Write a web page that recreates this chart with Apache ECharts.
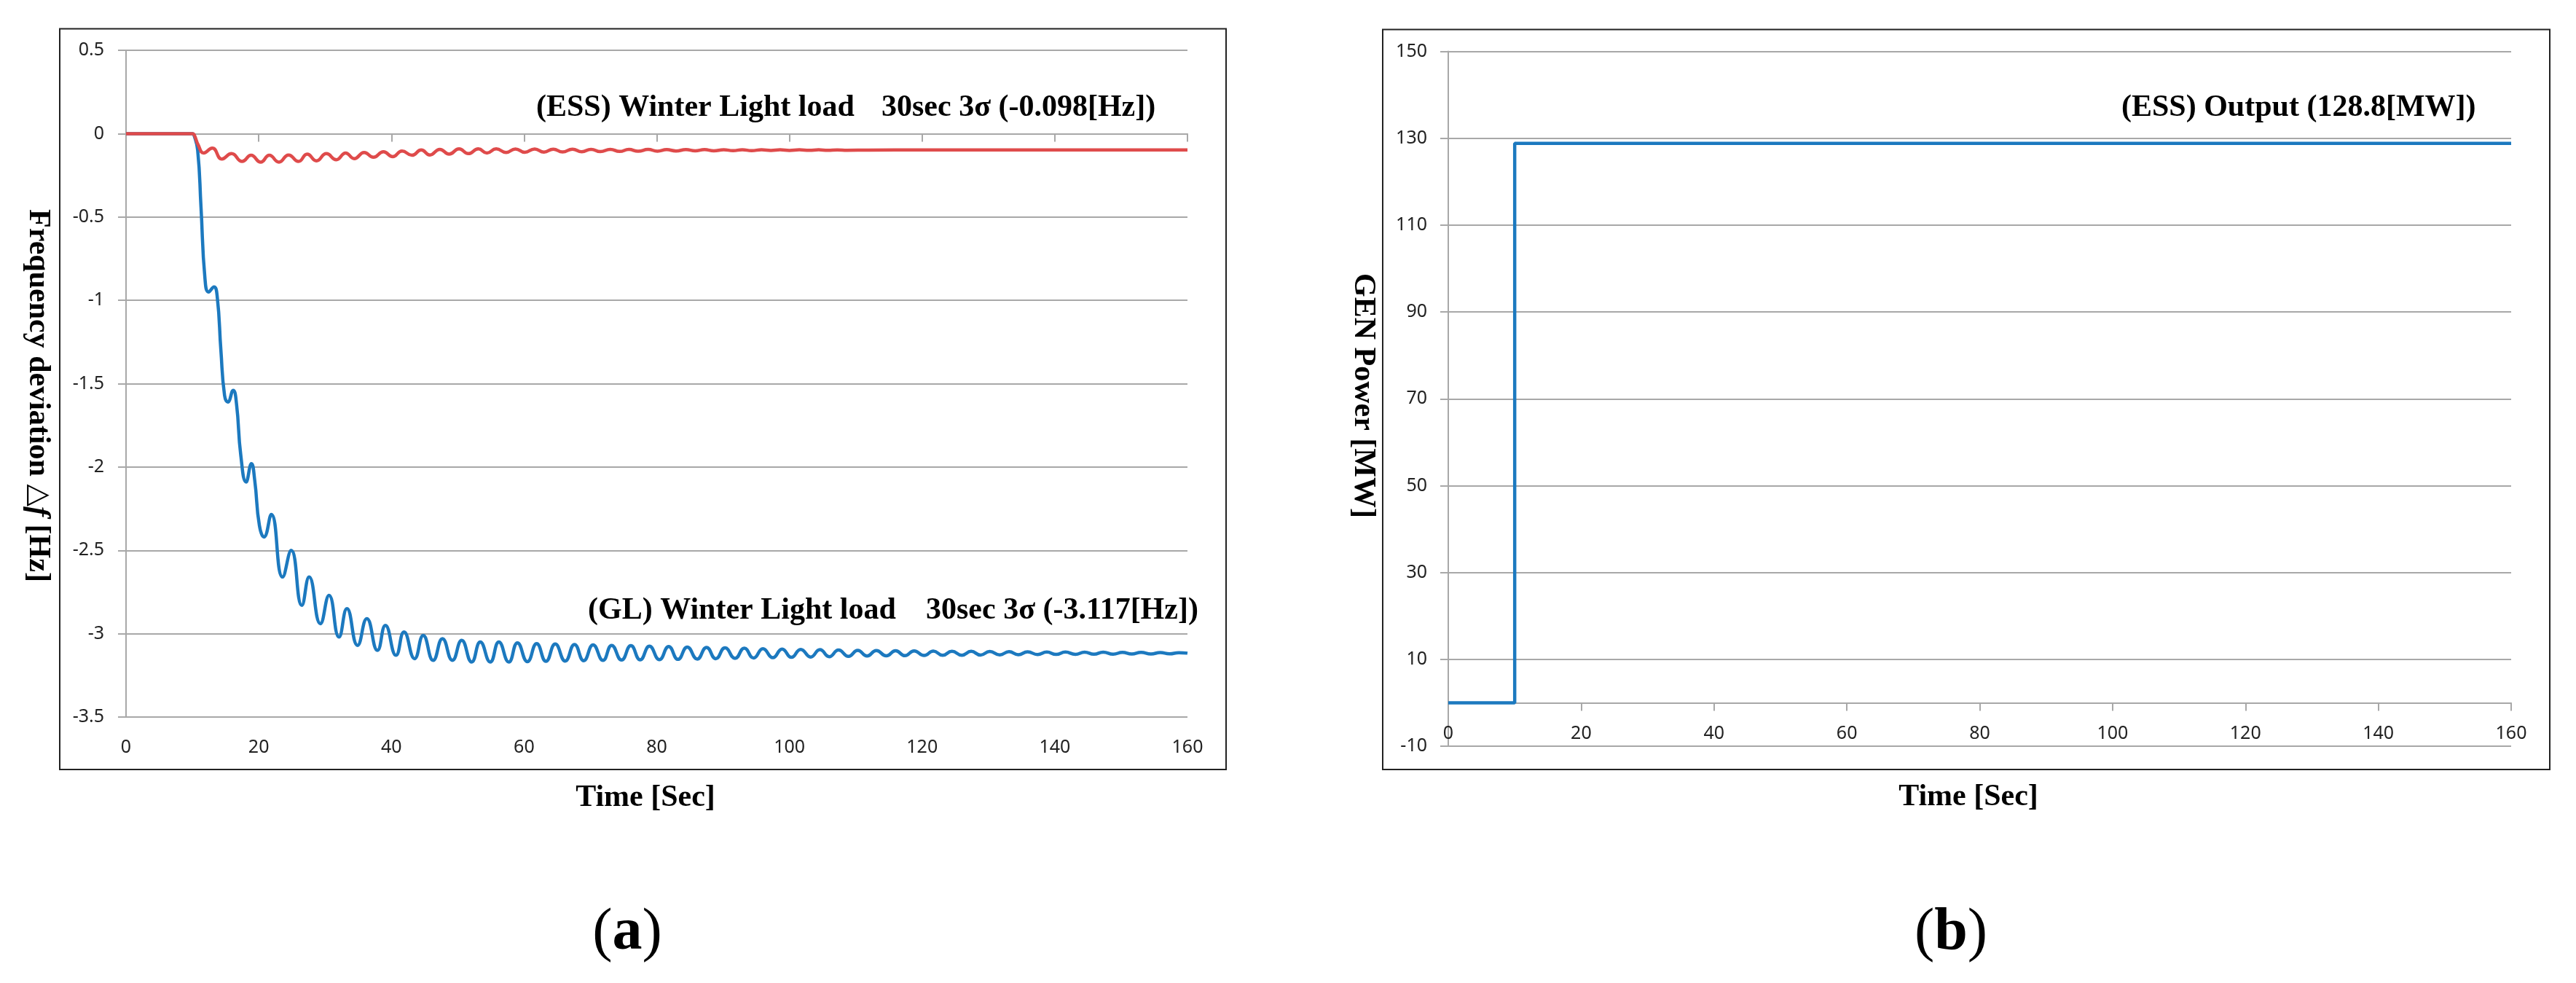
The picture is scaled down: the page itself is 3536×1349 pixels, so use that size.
<!DOCTYPE html>
<html><head><meta charset="utf-8">
<script src="https://cdn.jsdelivr.net/npm/echarts@6/dist/echarts.min.js"></script>
<style>html,body{margin:0;padding:0;background:#fff}#c{width:3536px;height:1349px}</style>
</head><body><div id="c"></div>
<script>
// ---- axis ranges / ticks ----
const timeAxis = { min: 0, max: 160, interval: 20 };
const freqAxis = { min: -3.5, max: 0.5, interval: 0.5 };
const powerAxis = { min: -10, max: 150, interval: 20 };

// ---- (a) ESS frequency deviation [t, Hz] ----
const essFreq = [[0,0],[10,0],[10.25,-0.005],[10.9,-0.07],[11.7,-0.116],[13.0,-0.087],[14.45,-0.152],[15.9,-0.12],[17.5,-0.167],[18.85,-0.13],[20.3,-0.171],[21.6,-0.13],[23.05,-0.171],[24.5,-0.128],[26.0,-0.167],[27.3,-0.123],[28.7,-0.163],[30.2,-0.12],[31.7,-0.157],[33.1,-0.116],[34.4,-0.15],[35.9,-0.113],[37.3,-0.142],[38.8,-0.109],[40.2,-0.138],[41.6,-0.104],[43.1,-0.13],[44.5,-0.098],[45.8,-0.128],[47.3,-0.094],[48.7,-0.123],[50.2,-0.091],[51.6,-0.12],[53.1,-0.091],[54.4,-0.116],[55.8,-0.091],[57.3,-0.113],[58.7,-0.092],[60.1,-0.112],[61.6,-0.092],[63.0,-0.111],[64.4,-0.093],[65.8,-0.11],[67.3,-0.093],[68.7,-0.109],[70.1,-0.094],[71.5,-0.108],[73.0,-0.094],[74.4,-0.107],[75.8,-0.095],[77.2,-0.106],[78.7,-0.095],[80.1,-0.105],[81.5,-0.096],[82.9,-0.104],[84.4,-0.096],[85.8,-0.103],[87.2,-0.096],[88.6,-0.103],[90.1,-0.097],[91.5,-0.102],[92.9,-0.097],[94.3,-0.102],[95.8,-0.097],[97.2,-0.101],[98.6,-0.097],[100.0,-0.101],[101.5,-0.097],[103,-0.1],[104.4,-0.097],[105.8,-0.1],[107.2,-0.0975],[108.7,-0.0995],[112,-0.099],[120,-0.098],[130,-0.098],[145,-0.098],[160,-0.098]];

// ---- (a) GL frequency deviation [t, Hz] ----
const glFreq = [[0,0],[10,0],[10.25,-0.01],[10.8,-0.10],[11.3,-0.44],[11.9,-0.87],[12.45,-0.95],[13.25,-0.92],[13.75,-0.98],[14.3,-1.30],[14.85,-1.57],[15.35,-1.61],[16.15,-1.54],[16.65,-1.62],[17.3,-1.93],[18.1,-2.09],[18.9,-1.98],[19.4,-2.08],[20.1,-2.35],[20.8,-2.42],[21.9,-2.285],[23.6,-2.66],[24.9,-2.50],[26.5,-2.83],[27.6,-2.66],[29.3,-2.94],[30.6,-2.77],[32.1,-3.02],[33.3,-2.85],[34.9,-3.07],[36.3,-2.91],[37.9,-3.10],[39.1,-2.95],[40.7,-3.13],[41.9,-2.99],[43.5,-3.15],[44.8,-3.01],[46.3,-3.16],[47.7,-3.03],[49.2,-3.16],[50.6,-3.04],[52.1,-3.17],[53.4,-3.05],[54.9,-3.17],[56.2,-3.05],[57.7,-3.17],[59.0,-3.055],[60.5,-3.168],[61.9,-3.06],[63.3,-3.166],[64.7,-3.062],[66.2,-3.164],[67.6,-3.065],[69.0,-3.162],[70.4,-3.067],[71.9,-3.16],[73.2,-3.07],[74.7,-3.158],[76.1,-3.072],[77.5,-3.157],[78.9,-3.075],[80.4,-3.156],[81.8,-3.077],[83.2,-3.154],[84.6,-3.08],[86.1,-3.152],[87.5,-3.082],[88.9,-3.15],[90.3,-3.085],[91.8,-3.148],[93.2,-3.087],[94.6,-3.146],[96.0,-3.09],[97.5,-3.144],[98.9,-3.092],[100.3,-3.142],[101.7,-3.094],[103.2,-3.14],[104.6,-3.096],[106.0,-3.138],[107.4,-3.098],[108.9,-3.136],[110.3,-3.1],[111.7,-3.134],[113.1,-3.101],[114.6,-3.133],[116.0,-3.102],[117.4,-3.132],[118.8,-3.103],[120.3,-3.131],[121.7,-3.104],[123.1,-3.13],[124.5,-3.105],[126.0,-3.129],[127.4,-3.106],[128.8,-3.128],[130.2,-3.107],[131.7,-3.127],[133.1,-3.108],[134.5,-3.126],[135.9,-3.109],[137.4,-3.125],[138.8,-3.11],[140.2,-3.124],[141.6,-3.11],[143.1,-3.124],[144.5,-3.111],[145.9,-3.123],[147.3,-3.111],[148.8,-3.123],[150.2,-3.112],[151.6,-3.122],[153.0,-3.112],[154.5,-3.122],[155.9,-3.113],[157.3,-3.121],[158.7,-3.114],[160,-3.117]];

// ---- (b) ESS output power [t, MW] ----
const essPower = [[0,0],[10,0],[10,128.8],[160,128.8]];

// ---- texts ----
const essNoteA = ['(ESS) Winter Light load', '30sec 3σ (-0.098[Hz])'];
const glNoteA = ['(GL) Winter Light load', '30sec 3σ (-3.117[Hz])'];
const essNoteB = '(ESS) Output (128.8[MW])';
const timeTitle = 'Time [Sec]';
const powerTitle = 'GEN Power [MW]';

const RED = '#DF4B4B', BLUE = '#1C79BF', GRID = '#a8a8a8', LBL = '#222';
const SERIF = '"Liberation Serif", "Times New Roman", serif';
const TF = 'bold 42px ' + SERIF;
const tickFont = { fontSize: 25, color: LBL, fontFamily: '"Noto Sans", sans-serif' };
const line = { show: true, lineStyle: { color: GRID, width: 2 } };

const chart = echarts.init(document.getElementById('c'), null, { renderer: 'canvas' });

function txt(x, y, text, align, extra) {
  return Object.assign({ type: 'text', x: x, y: y, z: 100,
    style: { text: text, font: TF, fill: '#000', textAlign: align || 'left', textVerticalAlign: 'middle' } }, extra || {});
}

chart.setOption({
  animation: false,
  backgroundColor: '#fff',
  grid: [
    { left: 173, top: 69, width: 1457, height: 915 },
    { left: 1988, top: 70.5, width: 1459, height: 953.5 }
  ],
  xAxis: [
    Object.assign({ gridIndex: 0, type: 'value', position: 'bottom',
      axisLine: { show: false, onZero: false }, axisTick: { show: false }, splitLine: { show: false },
      axisLabel: Object.assign({ margin: 29 }, tickFont) }, timeAxis),
    Object.assign({ gridIndex: 0, type: 'value', position: 'top',
      axisLine: { show: true, onZero: true, lineStyle: { color: GRID, width: 2 } },
      axisTick: { show: true, inside: true, length: 11, lineStyle: { color: GRID, width: 2 } },
      splitLine: { show: false }, axisLabel: { show: false } }, timeAxis),
    Object.assign({ gridIndex: 1, type: 'value', position: 'bottom',
      axisLine: { show: true, onZero: true, lineStyle: { color: GRID, width: 2 } },
      axisTick: { show: true, inside: false, length: 11, lineStyle: { color: GRID, width: 2 } },
      splitLine: { show: false }, axisLabel: { show: false } }, timeAxis),
    Object.assign({ gridIndex: 1, type: 'value', position: 'bottom',
      axisLine: { show: false, onZero: false }, axisTick: { show: false }, splitLine: { show: false },
      axisLabel: Object.assign({ inside: true, margin: 5 }, tickFont) }, timeAxis)
  ],
  yAxis: [
    Object.assign({ gridIndex: 0, type: 'value',
      axisLine: { show: true, onZero: false, lineStyle: { color: GRID, width: 2 } },
      axisTick: { show: true, length: 11, lineStyle: { color: GRID, width: 2 } },
      splitLine: line, axisLabel: Object.assign({ margin: 30 }, tickFont) }, freqAxis),
    Object.assign({ gridIndex: 1, type: 'value',
      axisLine: { show: true, onZero: false, lineStyle: { color: GRID, width: 2 } },
      axisTick: { show: true, length: 11, lineStyle: { color: GRID, width: 2 } },
      splitLine: line, axisLabel: Object.assign({ margin: 29 }, tickFont) }, powerAxis)
  ],
  series: [
    { type: 'line', xAxisIndex: 0, yAxisIndex: 0, data: glFreq, smooth: 0.5, symbol: 'none',
      lineStyle: { color: BLUE, width: 4.5 }, z: 3 },
    { type: 'line', xAxisIndex: 0, yAxisIndex: 0, data: essFreq, smooth: 0.5, symbol: 'none',
      lineStyle: { color: RED, width: 4.5 }, z: 4 },
    { type: 'line', xAxisIndex: 2, yAxisIndex: 1, data: essPower, symbol: 'none',
      lineStyle: { color: BLUE, width: 4.5 }, z: 3 }
  ],
  graphic: [
    { type: 'rect', shape: { x: 82, y: 39.5, width: 1601, height: 1016.5 }, z: 1,
      style: { fill: 'none', stroke: '#222', lineWidth: 2 } },
    { type: 'rect', shape: { x: 1898, y: 40.5, width: 1602, height: 1015.5 }, z: 1,
      style: { fill: 'none', stroke: '#222', lineWidth: 2 } },
    txt(736, 148, essNoteA[0]), txt(1210, 148, essNoteA[1]),
    txt(807, 838, glNoteA[0]), txt(1271, 838, glNoteA[1]),
    txt(2912, 148, essNoteB),
    txt(886, 1095, timeTitle, 'center'),
    txt(2702, 1094, timeTitle, 'center'),
    { type: 'text', x: 52, y: 543, rotation: -Math.PI / 2, z: 100,
      style: { text: '{b|Frequency deviation }{s|△}{i|f}{b| [Hz]}', textAlign: 'center', textVerticalAlign: 'middle',
        rich: { b: { font: TF, fill: '#000' }, s: { font: '40px "DejaVu Sans", sans-serif', fill: '#000' },
                i: { font: 'bold italic 42px ' + SERIF, fill: '#000' } } } },
    { type: 'text', x: 1871, y: 543, rotation: -Math.PI / 2, z: 100,
      style: { text: powerTitle, font: TF, fill: '#000', textAlign: 'center', textVerticalAlign: 'middle' } },
    { type: 'text', x: 861, y: 1281, z: 100,
      style: { text: '{p|(}{l|a}{p|)}', textAlign: 'center', textVerticalAlign: 'middle',
        rich: { p: { font: '82px ' + SERIF, fill: '#000' }, l: { font: 'bold 82px ' + SERIF, fill: '#000' } } } },
    { type: 'text', x: 2678, y: 1281, z: 100,
      style: { text: '{p|(}{l|b}{p|)}', textAlign: 'center', textVerticalAlign: 'middle',
        rich: { p: { font: '82px ' + SERIF, fill: '#000' }, l: { font: 'bold 82px ' + SERIF, fill: '#000' } } } }
  ]
});
</script>
</body></html>
